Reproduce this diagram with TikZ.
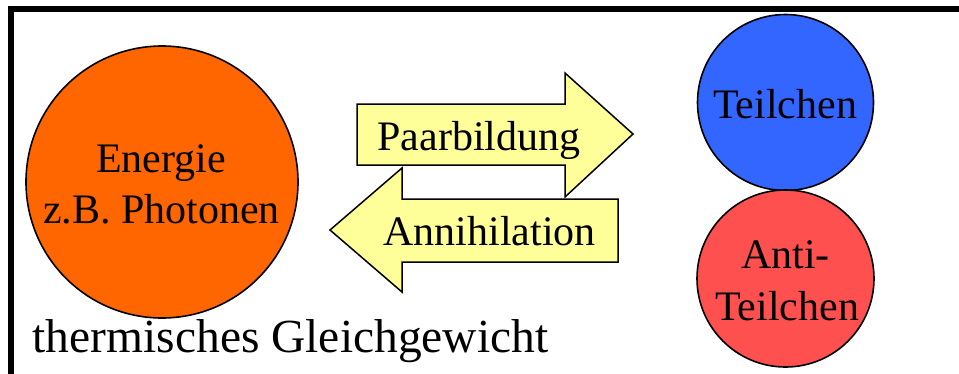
\documentclass[tikz,border=0pt]{standalone}
\usepackage{fontspec}
\setmainfont{Liberation Serif}
\definecolor{energyorange}{HTML}{FF6600}
\definecolor{particleblue}{HTML}{3366FF}
\definecolor{antired}{HTML}{FF5050}
\definecolor{arrowyellow}{HTML}{FFFF99}
\begin{document}
\begin{tikzpicture}[x=1pt,y=-1pt,
  ball/.style={circle,draw=black,line width=1.6pt,inner sep=0pt},
  bigarrow/.style={draw=black,fill=arrowyellow,line width=1.5pt,line join=miter},
  lbl/.style={anchor=base,inner sep=0pt,font=\fontsize{42}{50}\selectfont},
  frameline/.style={line width=6pt,line join=miter}]
\useasboundingbox (0,0) rectangle (959,373);
\fill[white] (0,0) rectangle (959,373);
\draw[frameline] (11,376) -- (11,9) -- (962,9);
% circles
\node[ball,fill=energyorange,minimum size=272pt] (energy) at (162,182) {};
\node[ball,fill=particleblue,minimum size=176pt] (teil) at (785.5,102.5) {};
\node[ball,fill=antired,minimum size=177pt] (anti) at (785.5,278.5) {};
% arrows
\draw[bigarrow] (357,104) -- (565,104) -- (565,73) -- (633,134) -- (565,197) -- (565,165) -- (357,165) -- cycle;
\draw[bigarrow] (618,199) -- (402,199) -- (402,168) -- (330,230) -- (402,292) -- (402,262) -- (618,262) -- cycle;
% labels
\node[lbl] (pb) at (479,150) {Paarbildung};
\node[lbl] (an) at (489.5,245) {Annihilation};
\node[lbl] (en1) at (161,172.7) {Energie};
\node[lbl] (en2) at (161.5,223) {z.B. Photonen};
\node[lbl] (t1) at (785,118) {Teilchen};
\node[lbl] (a1) at (785.5,268) {Anti-};
\node[lbl] (a2) at (787,320) {Teilchen};
\node[anchor=base west,inner sep=0pt,font=\fontsize{47.5}{54}\selectfont] (therm) at (32.5,352) {thermisches Gleichgewicht};
\end{tikzpicture}
\end{document}
